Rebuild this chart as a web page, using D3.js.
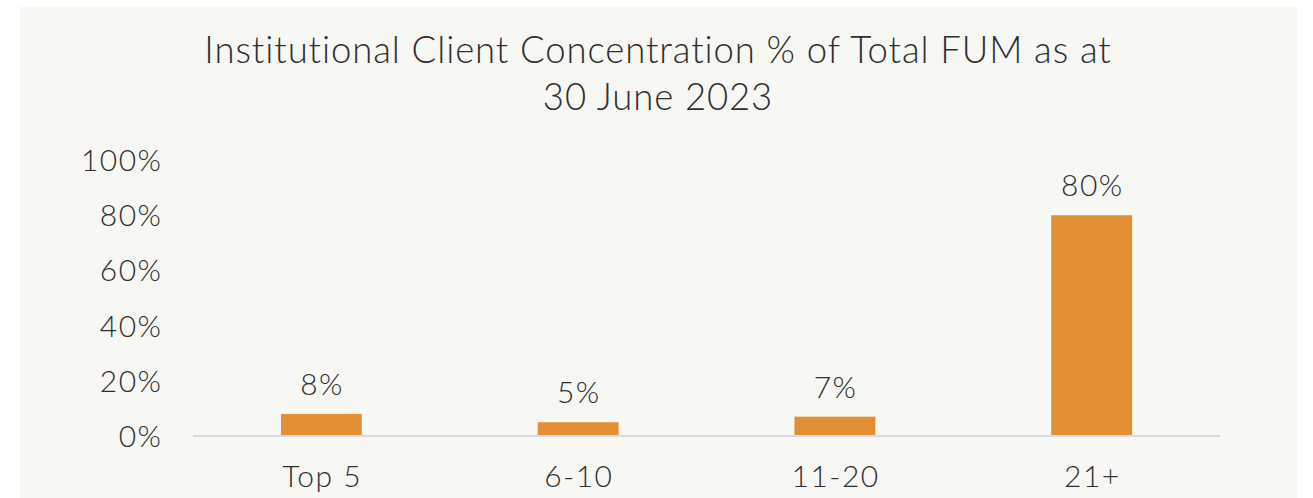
<!DOCTYPE html>
<html><head><meta charset="utf-8">
<script src="https://cdn.jsdelivr.net/npm/d3@7"></script>
<style>
html,body{margin:0;padding:0;background:#fff;}
svg{display:block;}
text{font-family:Lato,"Open Sans",sans-serif;fill:#2f2f2f;}
</style></head>
<body>
<svg id="c" width="1313" height="498"></svg>
<script>
const categories = ["Top 5", "6-10", "11-20", "21+"];
const values = [8, 5, 7, 80];
const yTicks = [0, 20, 40, 60, 80, 100];
const titleLines = ["Institutional Client Concentration % of Total FUM as at", "30 June 2023"];

const svg = d3.select("#c");
svg.append("rect").attr("x",20).attr("y",7).attr("width",1277).attr("height",491).attr("fill","#f7f7f3");

const x = d3.scaleBand().domain(categories).range([193,1220]).paddingInner(0.685).paddingOuter(0.3425);
const y = d3.scaleLinear().domain([0,100]).range([436,160]);

svg.append("g").selectAll("text").data(titleLines).join("text")
  .attr("x",658).attr("y",(d,i)=>63+i*47).attr("text-anchor","middle")
  .style("font-size","36.5px").style("font-weight",300).style("letter-spacing","0.9px").text(d=>d);

const yAxis = svg.append("g").attr("transform","translate(162.5,0)")
  .call(d3.axisLeft(y).tickValues(yTicks).tickFormat(d=>d+"%").tickSize(0).tickPadding(0));
yAxis.select(".domain").remove();
yAxis.selectAll("text").style("font-size","30px").style("font-weight",300).style("letter-spacing","1.5px")
  .attr("fill","#2f2f2f").attr("dy","0.35em").style("font-family","Lato,sans-serif");

svg.append("g").selectAll("rect").data(values).join("rect")
  .attr("x",(d,i)=>x(categories[i])).attr("width",x.bandwidth())
  .attr("y",d=>y(d)).attr("height",d=>y(0)-y(d)).attr("fill","#e38f35");

const xAxis = svg.append("g").attr("transform","translate(0,436)")
  .call(d3.axisBottom(x).tickSize(0).tickPadding(0));
xAxis.select(".domain").attr("stroke","#d9dae2").attr("stroke-width",2).attr("d","M193,0H1220");
xAxis.selectAll("text").attr("y",51).attr("dy",0).attr("dx","0.75px").style("font-size","30px").style("font-weight",300)
  .style("letter-spacing","1.5px").attr("fill","#2f2f2f").style("font-family","Lato,sans-serif");

svg.append("g").selectAll("text").data(values).join("text")
  .attr("x",(d,i)=>x(categories[i])+x.bandwidth()/2+0.75).attr("y",d=>y(d)-19)
  .attr("text-anchor","middle").style("font-size","30px").style("font-weight",300).style("letter-spacing","1.5px").text(d=>d+"%");
</script>
</body></html>
